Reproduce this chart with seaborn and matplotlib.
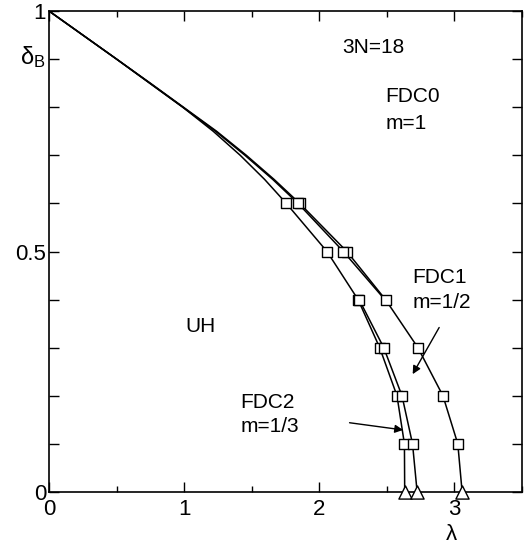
import matplotlib
matplotlib.use("Agg")
import matplotlib.pyplot as plt
import matplotlib.transforms as mtransforms
import seaborn as sns
import numpy as np
import pandas as pd
from matplotlib.ticker import MultipleLocator, FuncFormatter

sns.set_theme(style="ticks")
plt.rcParams['font.family'] = ['Liberation Sans', 'DejaVu Sans']
plt.rcParams['text.color'] = 'black'
plt.rcParams['axes.labelcolor'] = 'black'
plt.rcParams['xtick.color'] = 'black'
plt.rcParams['ytick.color'] = 'black'
plt.rcParams['mathtext.fontset'] = 'custom'
plt.rcParams['mathtext.rm'] = 'Liberation Sans'
plt.rcParams['mathtext.it'] = 'Liberation Sans'

# ---- data ----
delta_upper = [1.0, 0.95, 0.9, 0.85, 0.8, 0.75, 0.7, 0.65]
lam_upper_A = [0.0, 0.25, 0.50, 0.75, 0.995, 1.24, 1.46, 1.665]
lam_upper_A2 = [0.0, 0.25, 0.50, 0.745, 0.99, 1.232, 1.45, 1.655]
lam_upper_C = [0.0, 0.25, 0.50, 0.745, 0.99, 1.215, 1.415, 1.595]

delta_marked = [0.6, 0.5, 0.4, 0.3, 0.2, 0.1]
lam_A = [1.855, 2.204, 2.49, 2.73, 2.915, 3.025]
lam_C = [1.756, 2.057, 2.287, 2.447, 2.575, 2.63]

delta_A2 = [0.6, 0.5, 0.4]
lam_A2 = [1.843, 2.178, 2.485]

delta_D = [0.4, 0.3, 0.2, 0.1]
lam_D = [2.295, 2.477, 2.612, 2.69]

delta_end = [0.0, 0.0, 0.0]
lam_end = [2.632, 2.724, 3.057]

# ---- figure ----
fig = plt.figure(figsize=(5.32, 5.46), dpi=100)
ax = fig.add_axes([49/532, 1-492/546, (522-49)/532, (492-11)/546])

curves = {
    'A': (lam_upper_A + lam_A + [lam_end[2]], delta_upper + delta_marked + [delta_end[2]]),
    'A2': (lam_upper_A2 + lam_A2, delta_upper + delta_A2),
    'C': (lam_upper_C + lam_C + [lam_end[0]], delta_upper + delta_marked + [delta_end[0]]),
    'D': ([lam_C[2]] + lam_D + [lam_end[1]], [delta_marked[2]] + delta_D + [delta_end[1]]),
}
for name, (xs, ys) in curves.items():
    sns.lineplot(x=xs, y=ys, sort=False, estimator=None, color='black',
                 lw=1.1, ax=ax)

sq_x = lam_A + lam_C + lam_A2[:2] + lam_D
sq_y = delta_marked + delta_marked + delta_A2[:2] + delta_D
sns.scatterplot(x=sq_x, y=sq_y, marker='s', s=55, facecolor='white',
                edgecolor='black', linewidth=1.0, ax=ax, zorder=5)
sns.scatterplot(x=lam_end, y=delta_end, marker='^', s=90, facecolor='white',
                edgecolor='black', linewidth=1.0, ax=ax, zorder=5, clip_on=False)

ax.set_xlim(0, 3.5)
ax.set_ylim(0, 1)
ax.xaxis.set_major_locator(MultipleLocator(1))
ax.xaxis.set_minor_locator(MultipleLocator(0.5))
ax.yaxis.set_major_locator(MultipleLocator(0.5))
ax.yaxis.set_minor_locator(MultipleLocator(0.1))
ax.xaxis.set_major_formatter(FuncFormatter(lambda v, p: f"{v:g}"))
ax.yaxis.set_major_formatter(FuncFormatter(lambda v, p: f"{v:g}"))
ax.tick_params(which='both', direction='in', top=True, right=True,
               labelsize=16, color='black', labelcolor='black', width=1.0)
ax.tick_params(axis='x', which='major', length=7, pad=5)
ax.tick_params(axis='x', which='minor', length=4)
ax.tick_params(axis='y', which='major', length=7, pad=2)
ax.tick_params(axis='y', which='minor', length=7)
for sp in ax.spines.values():
    sp.set_color('black')
    sp.set_linewidth(1.2)
ax.set_xlabel('')
ax.set_ylabel('')

ax.text(2.98, -0.088, 'λ', fontsize=16, ha='center', va='center')
ax.text(-0.03, 0.905, r'$\delta_\mathrm{B}$', fontsize=17, ha='right', va='center')

fs = 15
ax.text(2.17, 0.925, '3N=18', fontsize=fs, ha='left', va='center')
ax.text(2.49, 0.823, 'FDC0', fontsize=fs, ha='left', va='center')
ax.text(2.49, 0.767, 'm=1', fontsize=fs, ha='left', va='center')
ax.text(2.687, 0.446, 'FDC1', fontsize=fs, ha='left', va='center')
ax.text(2.687, 0.394, 'm=1/2', fontsize=fs, ha='left', va='center')
ax.text(1.415, 0.186, 'FDC2', fontsize=fs, ha='left', va='center')
ax.text(1.415, 0.136, 'm=1/3', fontsize=fs, ha='left', va='center')
ax.text(1.007, 0.344, 'UH', fontsize=fs, ha='left', va='center')

arrow = dict(arrowstyle='-|>', color='black', lw=1.0, mutation_scale=12,
             shrinkA=0, shrinkB=0)
ax.annotate('', xy=(2.691, 0.245), xytext=(2.887, 0.342), arrowprops=arrow)
ax.annotate('', xy=(2.62, 0.129), xytext=(2.224, 0.144), arrowprops=arrow)

# nudge the y-axis "0" label up a little so it clears the x-axis "0"
fig.canvas.draw()
ylabels = ax.get_yticklabels()
if ylabels:
    lab0 = ylabels[0]
    lab0.set_transform(lab0.get_transform() +
                       mtransforms.ScaledTranslation(-1/100, 5/100, fig.dpi_scale_trans))

fig.savefig('out.png', dpi=100)
